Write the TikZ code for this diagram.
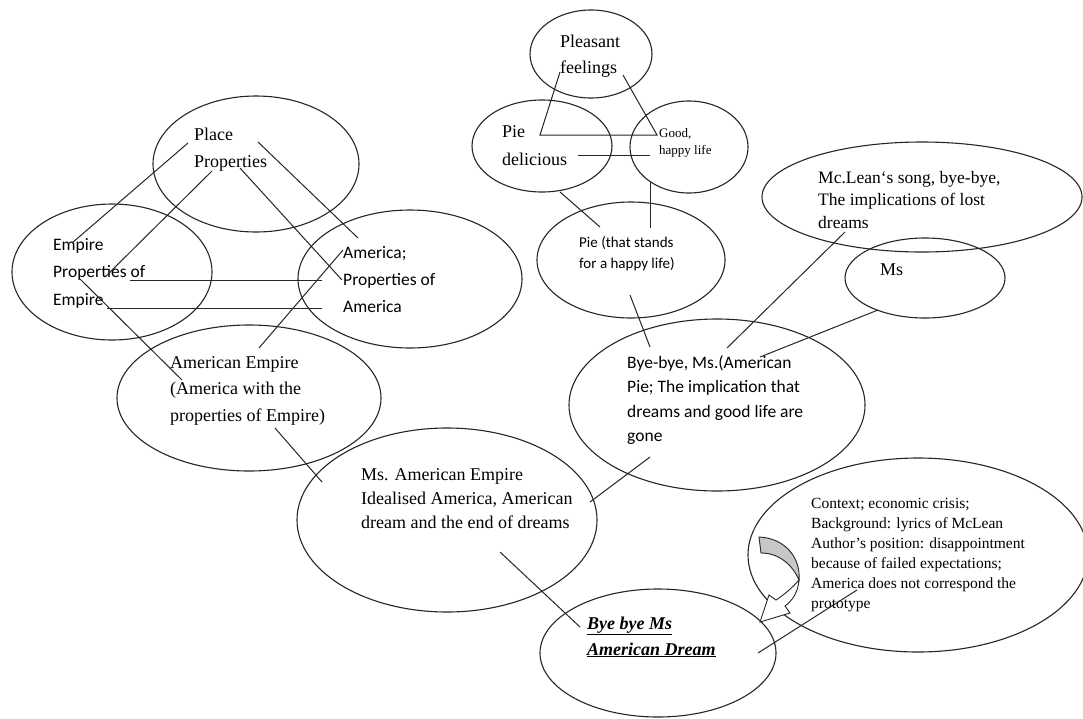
\documentclass[tikz,border=0pt]{standalone}
\usepackage{fontspec}
\setmainfont{Liberation Serif}
\newfontfamily\calfont{Carlito}
\usetikzlibrary{shapes.geometric}
\begin{document}
\begin{tikzpicture}[x=1pt,y=-1pt,
  oval/.style={draw=black!85, line width=1.1pt, ellipse, inner sep=0pt},
  link/.style={draw=black!85, line width=1pt},
  % multi-line labels are placed by the baseline of their last line
  lbl/.style={anchor=base west, inner sep=0pt, align=left},
]
\useasboundingbox (0,0) rectangle (1083,718);
\fill[white] (0,0) rectangle (1083,718);

% ---- ellipses ----
\node[oval, minimum width=206pt, minimum height=136pt] (eplace)  at (256,164) {};
\node[oval, minimum width=200pt, minimum height=136pt] (eempire) at (112,272) {};
\node[oval, minimum width=224pt, minimum height=138pt] (eamer)   at (410,279) {};
\node[oval, minimum width=264pt, minimum height=146pt] (eamemp)  at (249,398) {};
\node[oval, minimum width=300pt, minimum height=184pt] (emsae)   at (447,520) {};
\node[oval, minimum width=236pt, minimum height=128pt] (ebye)    at (658,653) {};
\node[oval, minimum width=340pt, minimum height=194pt] (ectx)    at (918,555) {};
\node[oval, minimum width=296pt, minimum height=172pt] (epie2)   at (717,405) {};
\node[oval, minimum width=188pt, minimum height=116pt] (epie)    at (631,260) {};
\node[oval, minimum width=140pt, minimum height=92pt]  (edel)    at (542,146) {};
\node[oval, minimum width=118pt, minimum height=92pt]  (egood)   at (689,147) {};
\node[oval, minimum width=122pt, minimum height=88pt]  (epleas)  at (591,54)  {};
\node[oval, minimum width=320pt, minimum height=110pt] (emclean) at (922,197) {};
\node[oval, minimum width=160pt, minimum height=80pt]  (ems)     at (925,278) {};

% ---- texts ----
\node[lbl, font=\fontsize{18}{27}\selectfont] (tplace) at (194,167) {Place\\Properties};
\node[lbl, font=\calfont\fontsize{17.5}{27.5}\selectfont] (tempire) at (53,305) {Empire\\Properties of\\Empire};
\node[lbl, font=\calfont\fontsize{17.5}{27}\selectfont] (tamer) at (343,312) {America;\\Properties of\\America};
\node[lbl, font=\fontsize{18}{26.5}\selectfont] (tamemp) at (170,421) {American Empire\\(America with the\\properties of Empire)};
\node[lbl, font=\fontsize{18}{24}\selectfont] (tmsae) at (361,528) {Ms. American Empire\\Idealised America, American\\dream and the end of dreams};
\node[lbl, font=\bfseries\itshape\fontsize{18}{26}\selectfont] (tbye) at (587,655) {\underline{Bye bye Ms}\\\underline{American Dream}};
\node[lbl, font=\fontsize{15.5}{20}\selectfont] (tctx) at (811,608) {Context; economic crisis;\\Background: lyrics of McLean\\Author’s position: disappointment\\because of failed expectations;\\America does not correspond the\\prototype};
\node[lbl, font=\calfont\fontsize{17.5}{24.5}\selectfont] (tpie2) at (627,441.5) {Bye-bye, Ms.(American\\Pie; The implication that\\dreams and good life are\\gone};
\node[lbl, font=\calfont\fontsize{15}{21}\selectfont] (tpie) at (579,268) {Pie (that stands\\for a happy life)};
\node[lbl, font=\fontsize{18}{28}\selectfont] (tdel) at (502,165) {Pie\\delicious};
\node[lbl, font=\fontsize{13}{17}\selectfont] (tgood) at (659,154) {Good,\\happy life};
\node[lbl, font=\fontsize{18}{26}\selectfont] (tpleas) at (560,73) {Pleasant\\feelings};
\node[lbl, font=\fontsize{17.5}{22.5}\selectfont] (tmclean) at (818,228) {Mc.Lean‘s song, bye-bye,\\The implications of lost\\dreams};
\node[lbl, font=\fontsize{18}{18}\selectfont] (tms) at (880,275) {Ms};

% ---- connector end points ----
\coordinate (a1) at (188,143); \coordinate (b1) at (72,243);
\coordinate (a2) at (212,171); \coordinate (b2) at (105,277);
\coordinate (a3) at (258,142); \coordinate (b3) at (358,238);
\coordinate (a4) at (240,168); \coordinate (b4) at (342,280);
\coordinate (a5) at (130,280); \coordinate (b5) at (322,280);
\coordinate (a6) at (107,308); \coordinate (b6) at (322,308);
\coordinate (a7) at (80,279);  \coordinate (b7) at (182,380);
\coordinate (a8) at (259,348); \coordinate (b8) at (343,250);
\coordinate (a9) at (275,428); \coordinate (b9) at (322,482);
\coordinate (a10) at (500,552); \coordinate (b10) at (580,627);
\coordinate (a11) at (590,502); \coordinate (b11) at (650,457);
\coordinate (t1) at (560,72); \coordinate (t2) at (540,135);
\coordinate (t3) at (657,135); \coordinate (t4) at (623,75);
\coordinate (a13) at (578,155); \coordinate (b13) at (650,155);
\coordinate (a14) at (560,192); \coordinate (b14) at (600,227);
\coordinate (a15) at (650,182); \coordinate (b15) at (650,228);
\coordinate (a16) at (630,295); \coordinate (b16) at (650,347);
\coordinate (a17) at (727,348); \coordinate (b17) at (845,232);
\coordinate (a18) at (760,357); \coordinate (b18) at (878,310);
\coordinate (a19) at (758,653); \coordinate (b19) at (857,590);

% ---- connectors ----
\foreach \i in {1,...,11,13,14,...,19}
  \draw[link] (a\i) -- (b\i);
\draw[link] (t1) -- (t2) -- (t3) -- (t4);

% ---- curved arrow ----
\filldraw[fill=black!22, draw=black!85, line width=0.9pt]
  (759,537) .. controls (785,538) and (801,558) .. (799,580)
  .. controls (793,566) and (780,553) .. (761,553) -- cycle;
\filldraw[fill=white, draw=black!85, line width=0.9pt]
  (799,580) .. controls (798,592) and (793,600) .. (785,606)
  -- (790,613) -- (760,622) -- (769,595) -- (776,600)
  .. controls (785,594) and (792,588) .. (799,580) -- cycle;
\end{tikzpicture}
\end{document}
